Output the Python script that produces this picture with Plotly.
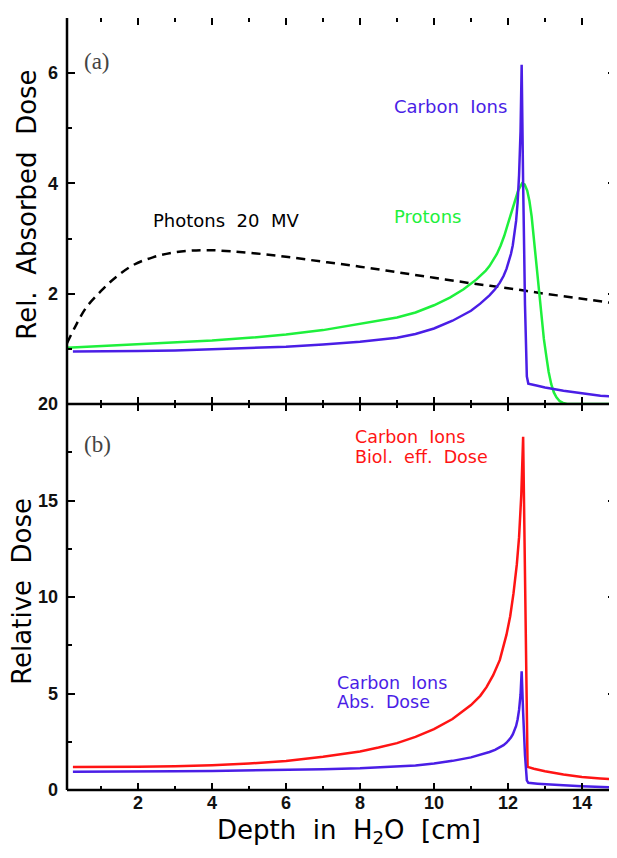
import plotly.graph_objects as go

# ---------------- data ----------------
photon_x = [0.08, 0.3, 0.6, 1, 1.4, 1.9, 2.4, 2.9, 3.4, 3.9, 4.5, 5.2, 6, 7, 8, 9, 10, 11, 12, 13, 14, 14.92]
photon_y = [1.1, 1.4, 1.75, 2.05, 2.3, 2.53, 2.66, 2.74, 2.78, 2.79, 2.77, 2.73, 2.67, 2.58, 2.49, 2.39, 2.29, 2.19, 2.1, 2.0, 1.91, 1.82]

carbon_x = [0.24, 1, 2, 3, 4, 5, 6, 7, 8, 9, 9.5, 10, 10.5, 11, 11.25, 11.5, 11.65, 11.78, 11.88, 11.96, 12.03, 12.08, 12.13,
            12.18, 12.22, 12.26, 12.3, 12.34, 12.37, 12.41, 12.46, 12.51, 12.55, 12.8, 13, 13.5, 14, 14.5, 14.92]
carbon_y = [0.95, 0.95, 0.96, 0.97, 0.99, 1.01, 1.04, 1.08, 1.13, 1.2, 1.27, 1.37, 1.51, 1.69, 1.82, 1.97, 2.08, 2.2, 2.32, 2.45, 2.6, 2.72, 2.88,
            3.08, 3.32, 3.65, 4.15, 4.95, 6.15, 4.0, 1.8, 0.5, 0.37, 0.33, 0.3, 0.24, 0.19, 0.15, 0.13]

proton_x = [0.08, 1, 2, 3, 4, 5, 6, 7, 8, 9, 9.5, 10, 10.43, 10.8, 11.15, 11.3, 11.4, 11.5, 11.6, 11.7, 11.8, 11.9, 12.0, 12.1, 12.2,
            12.28, 12.38, 12.45, 12.52, 12.58, 12.64, 12.7, 12.77, 12.84, 12.9, 12.97, 13.04, 13.1, 13.17, 13.24, 13.31, 13.4,
            13.49, 13.6, 14.92]
proton_y = [1.02, 1.05, 1.08, 1.11, 1.15, 1.2, 1.26, 1.34, 1.45, 1.57, 1.66, 1.79, 1.93, 2.08, 2.26, 2.35, 2.42, 2.5, 2.6, 2.72, 2.87, 3.05, 3.27, 3.5, 3.72,
            3.88, 4.0, 3.98, 3.87, 3.68, 3.4, 3.0, 2.5, 2.0, 1.57, 1.18, 0.85, 0.58, 0.36, 0.21, 0.12, 0.05,
            0.02, 0.0, 0.0]

biol_x = [0.24, 1, 2, 3, 4, 5, 6, 7, 8, 8.5, 9, 9.5, 10, 10.5, 10.7, 11, 11.25, 11.42, 11.6, 11.78, 11.96, 12.06, 12.15, 12.24, 12.3,
          12.36, 12.41, 12.47, 12.53, 12.7, 13, 13.5, 14, 14.5, 14.92]
biol_y = [1.19, 1.19, 1.2, 1.23, 1.28, 1.37, 1.5, 1.72, 2.0, 2.2, 2.43, 2.75, 3.15, 3.68, 3.95, 4.4, 4.88, 5.33, 5.95, 6.74, 8.05, 9.0, 10.2, 11.7, 13.1,
          15.3, 18.3, 9.0, 1.2, 1.1, 0.97, 0.8, 0.67, 0.6, 0.55]

top_yticks = [2, 4, 6]
top_yminor = [1, 3, 5, 7]

BLUE = "#4a1ee6"
GREEN = "#1ef03c"
RED = "#ff1414"
FONT = "DejaVu Sans"
TICKFONT = "Liberation Sans Narrow, Liberation Sans"

fig = go.Figure()

# top panel (a)
fig.add_trace(go.Scatter(x=photon_x, y=photon_y, mode="lines", xaxis="x2", yaxis="y2",
                         line=dict(color="black", width=2.5, dash="9px,6px"), line_shape="spline"))
fig.add_trace(go.Scatter(x=proton_x, y=proton_y, mode="lines", xaxis="x2", yaxis="y2",
                         line=dict(color=GREEN, width=2.5)))
fig.add_trace(go.Scatter(x=carbon_x, y=carbon_y, mode="lines", xaxis="x2", yaxis="y2",
                         line=dict(color=BLUE, width=2.5)))
# bottom panel (b)
fig.add_trace(go.Scatter(x=biol_x, y=biol_y, mode="lines", xaxis="x", yaxis="y",
                         line=dict(color=RED, width=2.5)))
fig.add_trace(go.Scatter(x=carbon_x, y=carbon_y, mode="lines", xaxis="x", yaxis="y",
                         line=dict(color=BLUE, width=2.5)))

tick_common = dict(ticks="inside", tickcolor="black", tickwidth=2, showline=False, mirror="ticks",
                   showgrid=False, zeroline=False, automargin=False,
                   tickfont=dict(family=TICKFONT, size=18, color="#111", weight="bold"))

XR = [0.08, 14.92]
fig.update_layout(
    width=609, height=842,
    margin=dict(l=59, r=1, t=10, b=60),
    paper_bgcolor="white", plot_bgcolor="white",
    showlegend=False,
    xaxis=dict(domain=[0, 1], anchor="y", range=XR, tickmode="linear", tick0=0, dtick=2, ticklen=7,
               minor=dict(dtick=1, tick0=0, ticks="inside", ticklen=4, tickwidth=2, tickcolor="black"),
               **tick_common),
    xaxis2=dict(domain=[0, 1], anchor="y2", range=XR, tickmode="linear", tick0=0, dtick=2, ticklen=7,
                showticklabels=False,
                minor=dict(dtick=1, tick0=0, ticks="inside", ticklen=4, tickwidth=2, tickcolor="black"),
                **tick_common),
    yaxis=dict(domain=[0, 0.5], anchor="x", range=[0, 20], tickmode="linear", tick0=0, dtick=5, ticklen=8,
               ticklabelstandoff=8,
               minor=dict(dtick=2.5, tick0=0, ticks="inside", ticklen=5, tickwidth=2, tickcolor="black"),
               **tick_common),
    yaxis2=dict(domain=[0.5, 1], anchor="x2", range=[0, 7], tickmode="array", tickvals=top_yticks, ticklen=8,
                ticklabelstandoff=8,
                minor=dict(tickvals=top_yminor, ticks="inside", ticklen=5, tickwidth=2, tickcolor="black"),
                **tick_common),
)

# frame lines
for sh in [dict(x0=0, x1=0, y0=0, y1=1), dict(x0=0, x1=1, y0=0, y1=0), dict(x0=0, x1=1, y0=0.5, y1=0.5)]:
    fig.add_shape(type="line", xref="paper", yref="paper", line=dict(color="black", width=2.5), **sh)

ann = []
def A(text, x, y, xref, yref, color="black", size=18, family=FONT, xanchor="left", angle=0, yanchor="middle"):
    ann.append(dict(text=text, x=x, y=y, xref=xref, yref=yref, showarrow=False, xanchor=xanchor, borderpad=0,
                    yanchor=yanchor, textangle=angle, font=dict(family=family, size=size, color=color), align="left"))

A("(a)", 0.5, 6.22, "x2", "y2", color="#444", size=23, family="Liberation Serif")
A("(b)", 0.5, 17.9, "x", "y", color="#444", size=23, family="Liberation Serif")
A("Photons  20  MV", 2.38, 3.33, "x2", "y2")
A("Carbon  Ions", 8.88, 5.4, "x2", "y2", color=BLUE)
A("Protons", 8.88, 3.4, "x2", "y2", color=GREEN)
A("Carbon  Ions", 7.84, 18.3, "x", "y", color=RED, size=17.5)
A("Biol.  eff.  Dose", 7.84, 17.28, "x", "y", color=RED, size=17.5)
A("Carbon  Ions", 7.36, 5.56, "x", "y", color=BLUE, size=17.5)
A("Abs.  Dose", 7.36, 4.54, "x", "y", color=BLUE, size=17.5)
A("Rel.  Absorbed  Dose", -0.073, 0.758, "paper", "paper", size=26, xanchor="center", angle=-90)
A("Relative  Dose", -0.082, 0.258, "paper", "paper", size=26, xanchor="center", angle=-90)
A("Depth  in  H<sub>2</sub>O  [cm]", 0.513, -0.054, "paper", "paper", size=26, xanchor="center")
fig.update_layout(annotations=ann)

fig.write_html("out.html")
